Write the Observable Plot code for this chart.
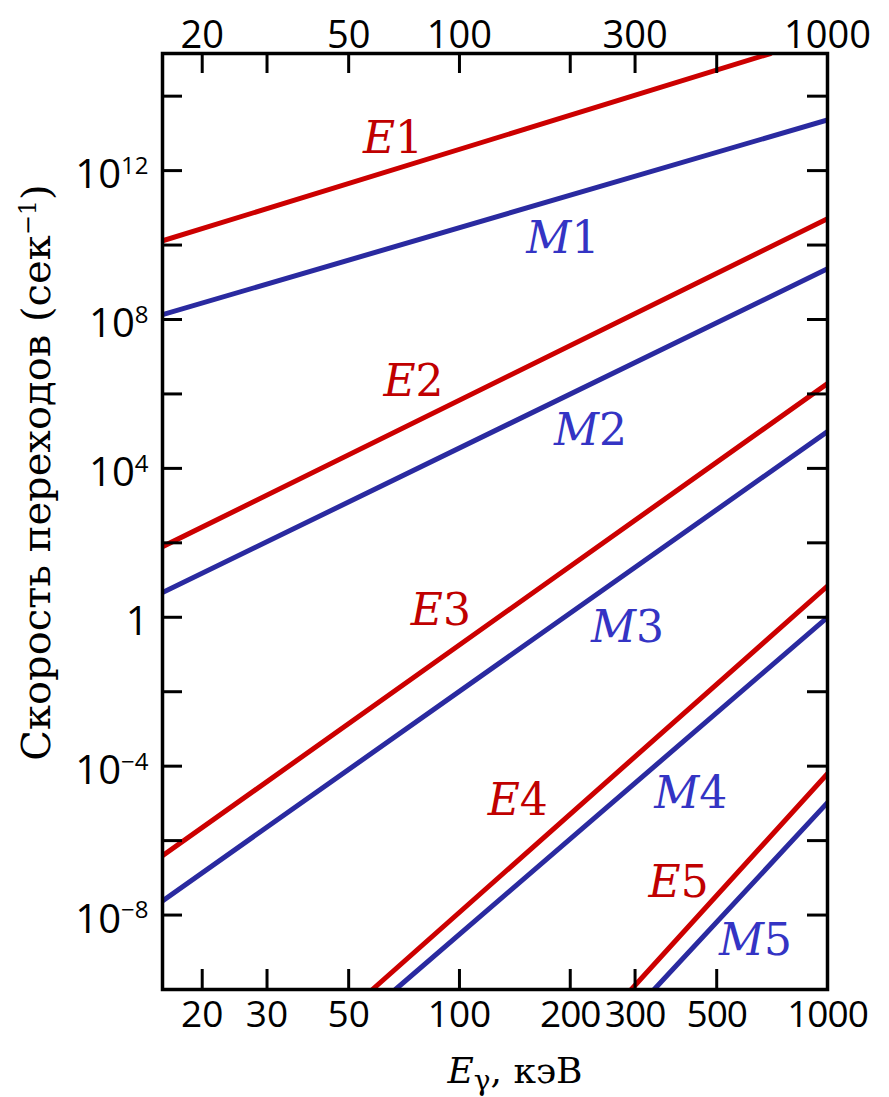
<!DOCTYPE html>
<html><head><meta charset="utf-8">
<script src="https://cdn.jsdelivr.net/npm/d3@7"></script>
<script src="https://cdn.jsdelivr.net/npm/@observablehq/plot@0.6"></script>
<style>body{margin:0;background:#fff}</style>
</head><body><div id="chart"></div>
<script>
// ---- data ----
const series      = ["E1","M1","E2","M2","E3","M3","E4","M4","E5","M5"];
const startEnergy = [15.6, 15.6, 15.6, 15.6, 15.6, 15.6, 58, 67, 293, 338];      // keV
const startRate   = [1.3e10, 1.35e8, 79, 4.6, 3.9e-7, 2.4e-8, 1e-10, 1e-10, 1e-10, 1e-10]; // 1/s
const endEnergy   = [700, 1000, 1000, 1000, 1000, 1000, 1000, 1000, 1000, 1000];
const endRate     = [1.4e15, 2.3e13, 5.1e10, 2.3e9, 1.9e6, 9.8e4, 6.9, 1.0, 6.3e-5, 1.05e-5];
const labelEnergy = [66, 191, 75, 227, 89, 286, 144, 425, 394, 637];
const labelRate   = [7.2e12, 1.5e10, 2.1e6, 1.0e5, 1.5, 0.52, 1.15e-5, 1.8e-5, 7.2e-8, 2.0e-9];
const xTicksBottom = [20, 30, 50, 100, 200, 300, 500, 1000];
const xTicksTop    = [20, 50, 100, 300, 1000];
const xTickMarks   = [20, 30, 50, 100, 200, 300, 500];
const yTickLabels  = [1e12, 1e8, 1e4, 1, 1e-4, 1e-8];
const yTickMarks   = [1e14, 1e12, 1e10, 1e8, 1e6, 1e4, 1e2, 1, 1e-2, 1e-4, 1e-6, 1e-8];
const yTitle = "Скорость переходов (сек^{−1})";
const xTitle = "*E*_{γ}, кэВ";

// ---- tables ----
const rows = [];
series.forEach((s, i) => {
  rows.push({series: s, energy: startEnergy[i], rate: startRate[i]});
  rows.push({series: s, energy: endEnergy[i], rate: endRate[i]});
});
const labels = series.map((s, i) => ({series: s, energy: labelEnergy[i], rate: labelRate[i], text: "*" + s[0] + "*" + s.slice(1)}));
const isE = d => d.series[0] === "E";
const isM = d => d.series[0] === "M";

const W = 889, H = 1097, ML = 162, MR = 62, MT = 53, MB = 108;
const innerW = W - ML - MR, innerH = H - MT - MB;
const RED_LINE = "#cc0000", BLUE_LINE = "#2a2aa0", RED_TXT = "#c00000", BLUE_TXT = "#3434c4";
const serif = "'DejaVu Serif', serif";
const sans = "'Open Sans', sans-serif";

const expFmt = d => {
  if (d === 1) return "1";
  const e = Math.round(Math.log10(d));
  return "10^{" + String(e).replace("-", "−") + "}";
};

const chart = Plot.plot({
  width: W, height: H,
  marginLeft: ML, marginRight: MR, marginTop: MT, marginBottom: MB,
  style: {background: "#fff", fontFamily: sans, color: "#000"},
  x: {type: "log", domain: [15.6, 1000], label: null, axis: null},
  y: {type: "log", domain: [1e-10, 1.4e15], label: null, axis: null},
  marks: [
    Plot.line(rows.filter(isE), {x: "energy", y: "rate", z: "series", stroke: RED_LINE, strokeWidth: 5, clip: true}),
    Plot.line(rows.filter(isM), {x: "energy", y: "rate", z: "series", stroke: BLUE_LINE, strokeWidth: 5, clip: true}),
    Plot.tickX(xTickMarks, {x: d => d, insetTop: innerH - 20, stroke: "#000", strokeWidth: 3}),
    Plot.tickX(xTickMarks, {x: d => d, insetBottom: innerH - 20, stroke: "#000", strokeWidth: 3}),
    Plot.tickY(yTickMarks, {y: d => d, insetRight: innerW - 20, stroke: "#000", strokeWidth: 3}),
    Plot.tickY(yTickMarks, {y: d => d, insetLeft: innerW - 20, stroke: "#000", strokeWidth: 3}),
    Plot.frame({stroke: "#000", strokeWidth: 3.5}),
    // tick labels
    Plot.text(xTicksBottom, {x: d => d, frameAnchor: "bottom", text: d => String(d), textAnchor: "middle", lineAnchor: "top", dy: 11, fontSize: 37, fontFamily: sans, fill: "#000"}),
    Plot.text(xTicksTop, {x: d => d, frameAnchor: "top", text: d => String(d), textAnchor: "middle", lineAnchor: "bottom", dy: -6, fontSize: 38, fontFamily: sans, fill: "#000"}),
    Plot.text(yTickLabels, {y: d => d, frameAnchor: "left", text: expFmt, textAnchor: "end", lineAnchor: "middle", dx: -14, dy: 5, fontSize: 40, fontFamily: sans, fill: "#000"}),
    // curve labels
    Plot.text(labels.filter(isE), {x: "energy", y: "rate", text: "text", fill: RED_TXT, fontSize: 44, fontFamily: serif}),
    Plot.text(labels.filter(isM), {x: "energy", y: "rate", text: "text", fill: BLUE_TXT, fontSize: 44, fontFamily: serif}),
    // axis titles
    Plot.text([yTitle], {frameAnchor: "left", text: d => d, rotate: -90, textAnchor: "middle", lineAnchor: "middle", dx: -125, dy: -49, fontSize: 40, fontFamily: serif, fill: "#000"}),
    Plot.text([xTitle], {frameAnchor: "bottom", text: d => d, textAnchor: "middle", lineAnchor: "middle", dx: 20, dy: 82, fontSize: 36, fontFamily: serif, fill: "#000"})
  ]
});
document.getElementById("chart").appendChild(chart);

// bottom tick labels: slightly tighter letter spacing (narrower face in the original)
chart.querySelectorAll("text").forEach(t => {
  if (/^(200|300|500|1000)$/.test(t.textContent) && t.closest("g") && t.closest("g").getAttribute("font-size") === "37")
    t.setAttribute("letter-spacing", "-1");
});

// ---- light markup: *italic*, ^{sup}, _{sub} ----
const NS = "http://www.w3.org/2000/svg";
chart.querySelectorAll("text").forEach(t => {
  const s = t.textContent;
  if (!/[\*\^_]/.test(s)) return;
  const fs = parseFloat(getComputedStyle(t).fontSize) || 10;
  const segs = [];
  let italic = false, i = 0, buf = "";
  const flush = (mode) => { if (buf) segs.push({text: buf, italic, mode}); buf = ""; };
  while (i < s.length) {
    const c = s[i];
    if (c === "*") { flush("base"); italic = !italic; i++; continue; }
    if ((c === "^" || c === "_") && s[i + 1] === "{") {
      flush("base");
      const j = s.indexOf("}", i);
      buf = s.slice(i + 2, j);
      flush(c === "^" ? "sup" : "sub");
      i = j + 1; continue;
    }
    buf += c; i++;
  }
  flush("base");
  while (t.firstChild) t.removeChild(t.firstChild);
  let cur = 0;
  segs.forEach(g => {
    const ts = document.createElementNS(NS, "tspan");
    let off = 0, size = fs;
    if (g.mode === "sup") { off = -0.36 * fs; size = 0.6 * fs; }
    if (g.mode === "sub") { off = 0.2 * fs; size = 0.78 * fs; }
    ts.setAttribute("dy", (off - cur).toFixed(2));
    cur = off;
    ts.setAttribute("font-size", size.toFixed(2));
    if (g.italic) ts.setAttribute("font-style", "italic");
    ts.textContent = g.text;
    t.appendChild(ts);
  });
});
</script>
</body></html>
